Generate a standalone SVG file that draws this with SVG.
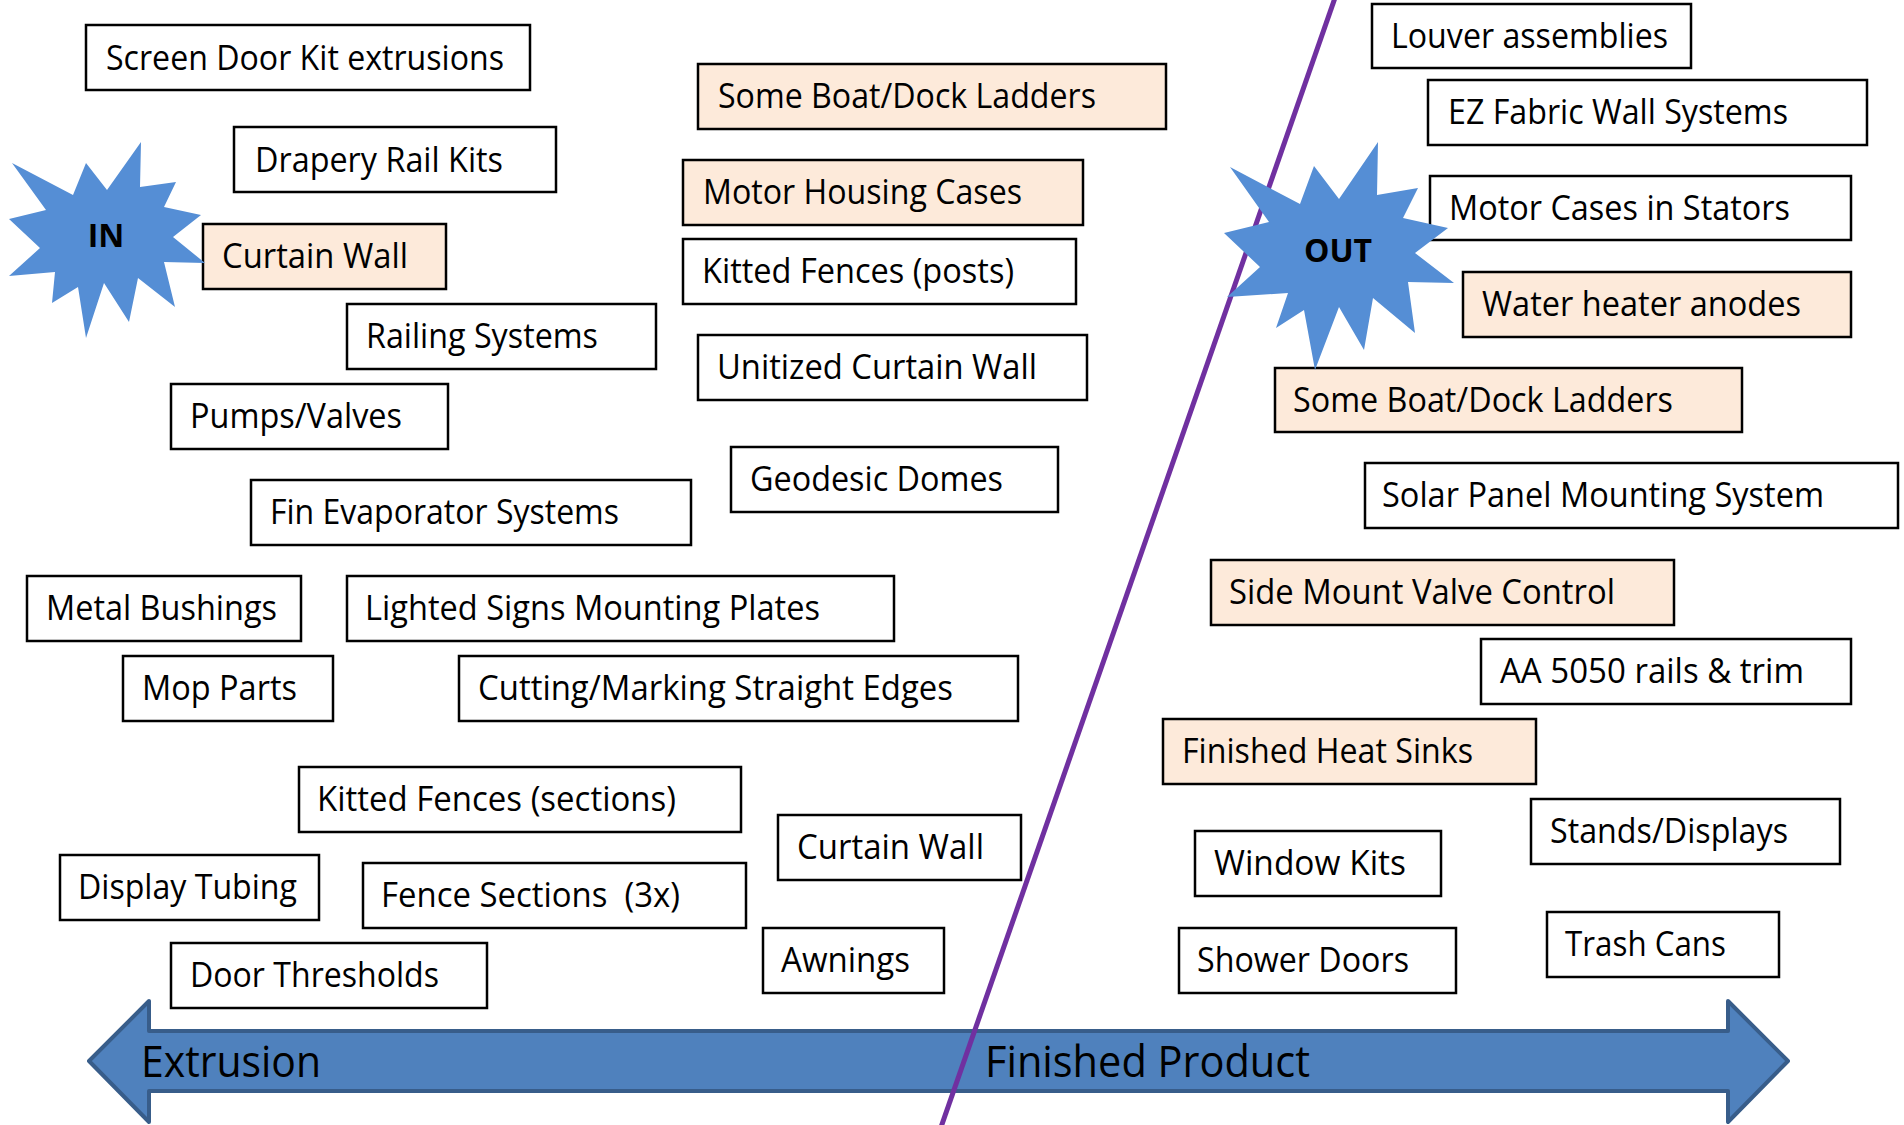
<svg xmlns="http://www.w3.org/2000/svg" width="1904" height="1125" viewBox="0 0 1904 1125">
  <style>
    .box { stroke: #000; stroke-width: 2.5; }
    .w { fill: #ffffff; }
    .p { fill: #FDEADA; }
    .lbl { font-family: "Open Sans", "Liberation Sans", sans-serif; font-size: 34px; fill: #000; }
    .big { font-family: "Open Sans", "Liberation Sans", sans-serif; font-size: 44px; fill: #000; }
    .star { fill: #558ED5; }
    .starlbl { font-family: "Open Sans", "Liberation Sans", sans-serif; font-size: 32px; font-weight: bold; fill: #000; text-anchor: middle; }
  </style>
  <rect width="1904" height="1125" fill="#ffffff"/>

  <!-- axis: double-headed arrow and the in/out divider -->
  <g id="connectors">
    <path d="M 89,1061 L 149,1001 L 149,1031 L 1728,1031 L 1728,1001 L 1788,1061 L 1728,1122 L 1728,1091 L 149,1091 L 149,1122 Z"
          fill="#4F81BD" stroke="#385D8A" stroke-width="4" stroke-linejoin="round"/>
    <text class="big" x="141" y="1077" textLength="180" lengthAdjust="spacingAndGlyphs">Extrusion</text>
    <text class="big" x="985" y="1077" textLength="325" lengthAdjust="spacingAndGlyphs">Finished Product</text>
    <line x1="1336" y1="-5" x2="940" y2="1130" stroke="#7030A0" stroke-width="5"/>
  </g>

  <!-- left column -->
  <g id="n-screen-door"><rect class="box w" x="86" y="25" width="444" height="65"/><text class="lbl" x="106" y="70" textLength="398" lengthAdjust="spacingAndGlyphs">Screen Door Kit extrusions</text></g>
  <g id="n-drapery"><rect class="box w" x="234" y="127" width="322" height="65"/><text class="lbl" x="255" y="172" textLength="248" lengthAdjust="spacingAndGlyphs">Drapery Rail Kits</text></g>
  <g id="n-curtain-wall-in"><rect class="box p" x="203" y="224" width="243" height="65"/><text class="lbl" x="222" y="268" textLength="186" lengthAdjust="spacingAndGlyphs">Curtain Wall</text></g>
  <g id="n-railing"><rect class="box w" x="347" y="304" width="309" height="65"/><text class="lbl" x="366" y="348" textLength="232" lengthAdjust="spacingAndGlyphs">Railing Systems</text></g>
  <g id="n-pumps"><rect class="box w" x="171" y="384" width="277" height="65"/><text class="lbl" x="190" y="428" textLength="212" lengthAdjust="spacingAndGlyphs">Pumps/Valves</text></g>
  <g id="n-fin-evap"><rect class="box w" x="251" y="480" width="440" height="65"/><text class="lbl" x="270" y="524" textLength="349" lengthAdjust="spacingAndGlyphs">Fin Evaporator Systems</text></g>
  <g id="n-bushings"><rect class="box w" x="27" y="576" width="274" height="65"/><text class="lbl" x="46" y="620" textLength="231" lengthAdjust="spacingAndGlyphs">Metal Bushings</text></g>
  <g id="n-lighted-signs"><rect class="box w" x="347" y="576" width="547" height="65"/><text class="lbl" x="365" y="620" textLength="455" lengthAdjust="spacingAndGlyphs">Lighted Signs Mounting Plates</text></g>
  <g id="n-mop"><rect class="box w" x="123" y="656" width="210" height="65"/><text class="lbl" x="142" y="700" textLength="155" lengthAdjust="spacingAndGlyphs">Mop Parts</text></g>
  <g id="n-cutting"><rect class="box w" x="459" y="656" width="559" height="65"/><text class="lbl" x="478" y="700" textLength="475" lengthAdjust="spacingAndGlyphs">Cutting/Marking Straight Edges</text></g>
  <g id="n-kitted-sections"><rect class="box w" x="299" y="767" width="442" height="65"/><text class="lbl" x="317" y="811" textLength="359" lengthAdjust="spacingAndGlyphs">Kitted Fences (sections)</text></g>
  <g id="n-display-tubing"><rect class="box w" x="60" y="855" width="259" height="65"/><text class="lbl" x="78" y="899" textLength="219" lengthAdjust="spacingAndGlyphs">Display Tubing</text></g>
  <g id="n-fence-sections"><rect class="box w" x="363" y="863" width="383" height="65"/><text class="lbl" x="381" y="907" textLength="299" lengthAdjust="spacingAndGlyphs" xml:space="preserve">Fence Sections  (3x)</text></g>
  <g id="n-thresholds"><rect class="box w" x="171" y="943" width="316" height="65"/><text class="lbl" x="190" y="987" textLength="249" lengthAdjust="spacingAndGlyphs">Door Thresholds</text></g>
  <g id="n-curtain-wall-2"><rect class="box w" x="778" y="815" width="243" height="65"/><text class="lbl" x="797" y="859" textLength="187" lengthAdjust="spacingAndGlyphs">Curtain Wall</text></g>
  <g id="n-awnings"><rect class="box w" x="763" y="928" width="181" height="65"/><text class="lbl" x="781" y="972" textLength="129" lengthAdjust="spacingAndGlyphs">Awnings</text></g>

  <!-- middle column -->
  <g id="n-boat-ladders-in"><rect class="box p" x="698" y="64" width="468" height="65"/><text class="lbl" x="718" y="108" textLength="378" lengthAdjust="spacingAndGlyphs">Some Boat/Dock Ladders</text></g>
  <g id="n-motor-housing"><rect class="box p" x="683" y="160" width="400" height="65"/><text class="lbl" x="703" y="204" textLength="319" lengthAdjust="spacingAndGlyphs">Motor Housing Cases</text></g>
  <g id="n-kitted-posts"><rect class="box w" x="683" y="239" width="393" height="65"/><text class="lbl" x="702" y="283" textLength="312" lengthAdjust="spacingAndGlyphs">Kitted Fences (posts)</text></g>
  <g id="n-unitized"><rect class="box w" x="698" y="335" width="389" height="65"/><text class="lbl" x="717" y="379" textLength="320" lengthAdjust="spacingAndGlyphs">Unitized Curtain Wall</text></g>
  <g id="n-geodesic"><rect class="box w" x="731" y="447" width="327" height="65"/><text class="lbl" x="750" y="491" textLength="253" lengthAdjust="spacingAndGlyphs">Geodesic Domes</text></g>

  <!-- right column -->
  <g id="n-louver"><rect class="box w" x="1372" y="4" width="319" height="64"/><text class="lbl" x="1391" y="48" textLength="277" lengthAdjust="spacingAndGlyphs">Louver assemblies</text></g>
  <g id="n-ez-fabric"><rect class="box w" x="1428" y="80" width="439" height="65"/><text class="lbl" x="1448" y="124" textLength="340" lengthAdjust="spacingAndGlyphs">EZ Fabric Wall Systems</text></g>
  <g id="n-motor-stators"><rect class="box w" x="1430" y="176" width="421" height="64"/><text class="lbl" x="1449" y="220" textLength="341" lengthAdjust="spacingAndGlyphs">Motor Cases in Stators</text></g>
  <g id="n-anodes"><rect class="box p" x="1463" y="272" width="388" height="65"/><text class="lbl" x="1482" y="316" textLength="319" lengthAdjust="spacingAndGlyphs">Water heater anodes</text></g>
  <g id="n-boat-ladders-out"><rect class="box p" x="1275" y="368" width="467" height="64"/><text class="lbl" x="1293" y="412" textLength="380" lengthAdjust="spacingAndGlyphs">Some Boat/Dock Ladders</text></g>
  <g id="n-solar"><rect class="box w" x="1365" y="463" width="533" height="65"/><text class="lbl" x="1382" y="507" textLength="442" lengthAdjust="spacingAndGlyphs">Solar Panel Mounting System</text></g>
  <g id="n-side-mount"><rect class="box p" x="1211" y="560" width="463" height="65"/><text class="lbl" x="1229" y="604" textLength="386" lengthAdjust="spacingAndGlyphs">Side Mount Valve Control</text></g>
  <g id="n-aa5050"><rect class="box w" x="1481" y="639" width="370" height="65"/><text class="lbl" x="1500" y="683" textLength="304" lengthAdjust="spacingAndGlyphs">AA 5050 rails &amp; trim</text></g>
  <g id="n-heat-sinks"><rect class="box p" x="1163" y="719" width="373" height="65"/><text class="lbl" x="1182" y="763" textLength="291" lengthAdjust="spacingAndGlyphs">Finished Heat Sinks</text></g>
  <g id="n-stands"><rect class="box w" x="1531" y="799" width="309" height="65"/><text class="lbl" x="1550" y="843" textLength="238" lengthAdjust="spacingAndGlyphs">Stands/Displays</text></g>
  <g id="n-window-kits"><rect class="box w" x="1195" y="831" width="246" height="65"/><text class="lbl" x="1214" y="875" textLength="192" lengthAdjust="spacingAndGlyphs">Window Kits</text></g>
  <g id="n-shower-doors"><rect class="box w" x="1179" y="928" width="277" height="65"/><text class="lbl" x="1197" y="972" textLength="212" lengthAdjust="spacingAndGlyphs">Shower Doors</text></g>
  <g id="n-trash-cans"><rect class="box w" x="1547" y="912" width="232" height="65"/><text class="lbl" x="1565" y="956" textLength="161" lengthAdjust="spacingAndGlyphs">Trash Cans</text></g>

  <!-- starburst markers -->
  <g id="n-in">
    <polygon class="star" points="141,142 140,187 176,182 164,207 201,215 173,237 205,263 164,262 175,307 138,278 129,322 104,283 86,338 78,287 52,303 55,272 9,276 40,248 9,219 46,210 12,163 73,195 86,163 107,190"/>
    <text class="starlbl" x="106" y="247">IN</text>
  </g>
  <g id="n-out">
    <polygon class="star" points="1378,142 1377,195 1418,188 1403,218 1448,228 1415,253 1454,283 1408,282 1415,333 1373,298 1364,350 1339,307 1315,370 1304,310 1276,328 1288,293 1227,297 1260,267 1224,233 1269,222 1230,167 1300,204 1314,166 1339,199"/>
    <text class="starlbl" x="1338" y="262">OUT</text>
  </g>
</svg>
